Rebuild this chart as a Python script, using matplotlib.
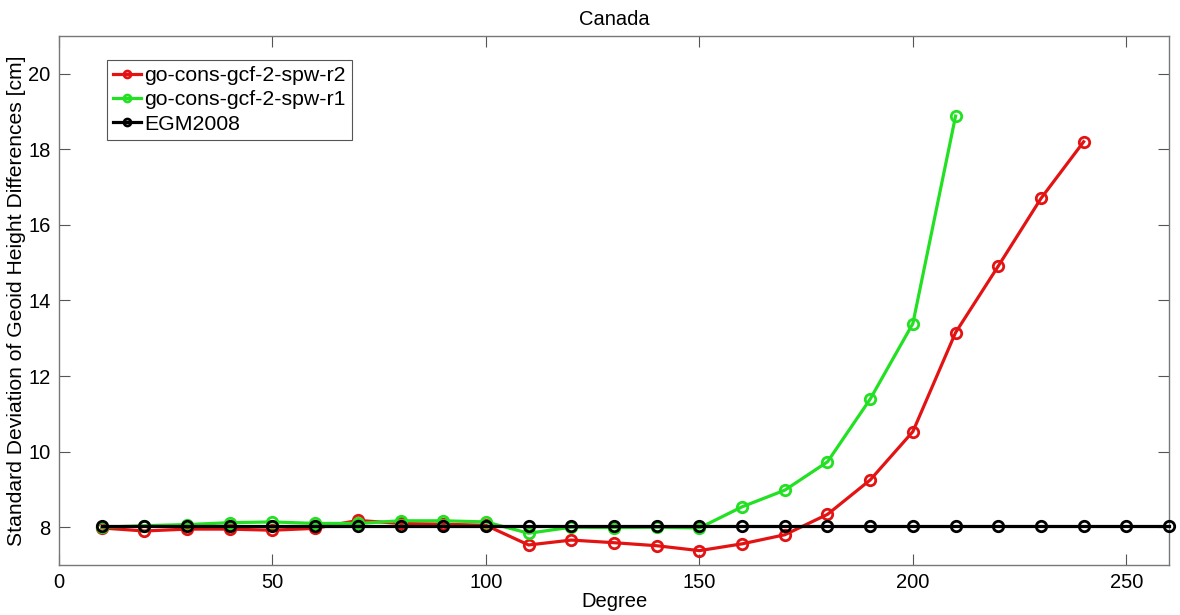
import numpy as np
import matplotlib
matplotlib.use("Agg")
import matplotlib.pyplot as plt

plt.rcParams['font.family'] = ['Liberation Sans', 'DejaVu Sans']

deg_r2 = [10, 20, 30, 40, 50, 60, 70, 80, 90, 100, 110, 120, 130, 140, 150, 160,
          170, 180, 190, 200, 210, 220, 230, 240]
std_r2 = [7.98, 7.90, 7.95, 7.95, 7.92, 7.97, 8.18, 8.10, 8.08, 8.05, 7.53, 7.66,
          7.59, 7.51, 7.38, 7.56, 7.80, 8.34, 9.25, 10.53, 13.15, 14.91, 16.70, 18.20]

deg_r1 = [10, 20, 30, 40, 50, 60, 70, 80, 90, 100, 110, 120, 130, 140, 150, 160,
          170, 180, 190, 200, 210]
std_r1 = [8.00, 8.04, 8.07, 8.12, 8.14, 8.10, 8.10, 8.17, 8.17, 8.14, 7.84, 8.00,
          7.99, 8.00, 7.98, 8.54, 8.98, 9.73, 11.39, 13.39, 18.88]

deg_egm = [10, 20, 30, 40, 50, 60, 70, 80, 90, 100, 110, 120, 130, 140, 150, 160,
           170, 180, 190, 200, 210, 220, 230, 240, 250, 260]
std_egm = [8.04] * len(deg_egm)

labels = ["go-cons-gcf-2-spw-r2", "go-cons-gcf-2-spw-r1", "EGM2008"]
colors = ["#e41313", "#22e022", "black"]

fig = plt.figure(figsize=(11.8, 6.15), dpi=100)
ax = fig.add_axes([0.05, 0.0813, 0.9407, 0.8602])

series = [(deg_r2, std_r2), (deg_r1, std_r1), (deg_egm, std_egm)]
for (x, y), lab, c in zip(series, labels, colors):
    ax.plot(x, y, color=c, lw=2.3, marker='o', ms=7.5, mfc='none', mec=c, mew=2.0,
            label=lab, clip_on=False, zorder=3)

ax.set_xlim(0, 260)
ax.set_ylim(7, 21)
ax.set_xticks([0, 50, 100, 150, 200, 250])
ax.set_yticks([8, 10, 12, 14, 16, 18, 20])
ax.tick_params(direction='in', length=8, width=0.8, color='#555555', labelsize=14.5,
               top=True, right=True, pad=6)
for s in ax.spines.values():
    s.set_color('#777777')
    s.set_linewidth(1.0)

ax.set_title("Canada", fontsize=14.5, pad=8)
ax.set_xlabel("Degree", fontsize=14.5, labelpad=0)
ax.set_ylabel("Standard Deviation of Geoid Height Differences [cm]", fontsize=15.2, labelpad=2)

leg = ax.legend(loc='upper left', bbox_to_anchor=(0.043, 0.955), fontsize=15.3,
                frameon=True, fancybox=False, edgecolor='#555555', framealpha=1,
                handlelength=1.3, handletextpad=0.15, borderpad=0.3, labelspacing=0.25,
                borderaxespad=0)
leg.get_frame().set_linewidth(0.8)
for h in leg.legend_handles:
    h.set_markersize(5)

fig.savefig("out.png", dpi=100)
